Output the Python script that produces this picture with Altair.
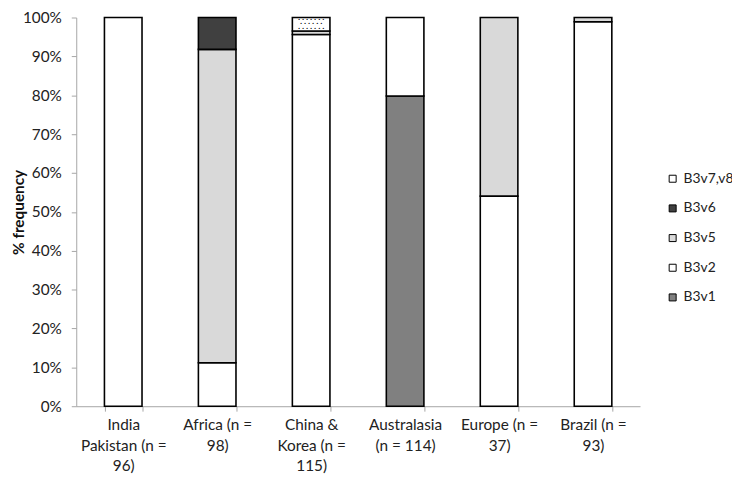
import altair as alt
import pandas as pd

# ---- data ----
categories = ["India|Pakistan (n =|96)", "Africa (n =|98)", "China &|Korea   (n =|115)",
              "Australasia|(n = 114)", "Europe (n =|37)", "Brazil (n =|93)"]
variants = ["B3v7,v8", "B3v6", "B3v5", "B3v2", "B3v1"]
variant_colors = ["white", "#404040", "#d9d9d9", "white", "#808080"]
stack_rank = {"B3v1": 1, "B3v2": 2, "B3v5": 3, "B3v6": 4, "B3v7,v8": 5}
y_ticks = [0, 10, 20, 30, 40, 50, 60, 70, 80, 90, 100]

b3v1 = [0, 0, 0, 79.8, 0, 0]
b3v2 = [100, 11.2, 95.65, 20.2, 54.05, 98.92]
b3v5 = [0, 80.6, 0.87, 0, 45.95, 1.08]
b3v6 = [0, 8.2, 0, 0, 0, 0]
b3v78 = [0, 0, 3.48, 0, 0, 0]

series = {"B3v1": b3v1, "B3v2": b3v2, "B3v5": b3v5, "B3v6": b3v6, "B3v7,v8": b3v78}

rows = []
for v, vals in series.items():
    for c, p in zip(categories, vals):
        if p > 0:
            rows.append({"cat": c, "variant": v, "pct": p, "rank": stack_rank[v]})
df = pd.DataFrame(rows)

# dotted fill pattern rows for the B3v7,v8 segment (derived from the segment bounds)
dots = []
for c, p78 in zip(categories, b3v78):
    if p78 > 0:
        base = 100 - p78
        nrows = 3
        for r in range(nrows):
            dots.append({"cat": c, "yv": base + (r + 0.5) * p78 / nrows, "odd": r % 2})
dots_df = pd.DataFrame(dots)

FONT = "Lato"
FS = 15.5

xscale = alt.Scale(domain=categories, paddingInner=0.6, paddingOuter=0.3)
yscale = alt.Scale(domain=[0, 100])
xaxis = alt.Axis(title=None, labelAngle=0, labelExpr="split(datum.label, '|')",
                 tickBand="extent", labelLimit=0, labelPadding=7, labelLineHeight=20.5)
yaxis = alt.Axis(title="% frequency", values=y_ticks,
                 labelExpr="datum.value + '%'", grid=False, labelOverlap=False,
                 labelPadding=10, titlePadding=-4)

bars = alt.Chart(df).mark_bar(stroke="black", strokeWidth=1.6).encode(
    x=alt.X("cat:N", sort=categories, scale=xscale, axis=xaxis),
    y=alt.Y("pct:Q", stack="zero", scale=yscale, axis=yaxis),
    color=alt.Color("variant:N", scale=alt.Scale(domain=variants, range=variant_colors),
                    legend=alt.Legend(title=None, orient="none", legendX=596, legendY=156,
                                      symbolType="square", symbolSize=50,
                                      symbolStrokeColor="black", symbolStrokeWidth=1,
                                      labelFontSize=14, labelFont=FONT, rowPadding=16,
                                      padding=0, labelOffset=4)),
    order=alt.Order("rank:Q", sort="ascending"),
)

def dot_row(parity, pattern, shift):
    return alt.Chart(dots_df).transform_filter(f"datum.odd == {parity}").mark_text(
        text=pattern, fontSize=4.5, font="DejaVu Sans", color="black",
        baseline="middle", dx=shift
    ).encode(
        x=alt.X("cat:N", sort=categories, scale=xscale, axis=xaxis),
        y=alt.Y("yv:Q", scale=yscale, axis=yaxis),
    )

chart = alt.layer(
    bars,
    dot_row(0, "•  •  •  •  •  •  •", 0),
    dot_row(1, "•  •  •  •  •  •", 0),
).properties(
    width=570, height=393,
    autosize=alt.AutoSizeParams(type="none"),
    padding={"left": 69, "top": 7, "right": 93, "bottom": 73},
).configure_view(stroke=None).configure_axis(
    domainColor="#a6a6a6", tickColor="#a6a6a6", tickSize=5,
    labelFont=FONT, labelFontSize=FS, labelColor="#222222",
    titleFont=FONT, titleFontSize=FS, titleFontWeight="bold", titleColor="#111111",
).configure_legend(labelColor="#222222")

chart.save("out.html", embed_options={"renderer": "svg", "actions": False})
